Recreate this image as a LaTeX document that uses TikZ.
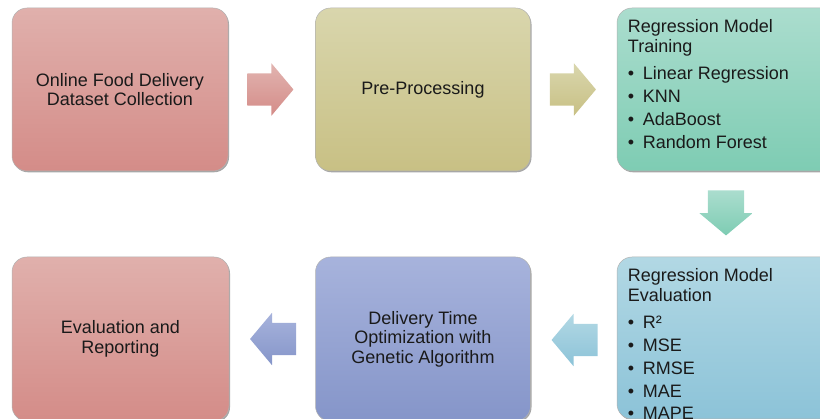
\documentclass[tikz,border=0pt]{standalone}
\usepackage{fontspec}
\setmainfont{Liberation Sans}
\usetikzlibrary{shapes.arrows,shadows,calc}

% stage colours: top and bottom of each gradient
\definecolor{roseT}{HTML}{E0B0AC}
\definecolor{roseB}{HTML}{D48C88}
\definecolor{oliveT}{HTML}{D9D6AD}
\definecolor{oliveB}{HTML}{C8C084}
\definecolor{tealT}{HTML}{ABDDCE}
\definecolor{tealB}{HTML}{7ECCB3}
\definecolor{periT}{HTML}{A7B3DC}
\definecolor{periB}{HTML}{8595C9}
\definecolor{skyT}{HTML}{B2D8E4}
\definecolor{skyB}{HTML}{8CC3D8}
\definecolor{ink}{HTML}{1A1A1A}

\newcommand{\itm}[1]{\makebox[15pt][l]{\textbullet}#1}

\begin{document}
\begin{tikzpicture}[x=1pt,y=-1pt,
  stage/.style={rectangle, rounded corners=15pt, draw=black!30, line width=0.5pt,
    inner sep=0pt, text=ink, align=center, font=\fontsize{18}{19.5}\selectfont,
    drop shadow={shadow xshift=1pt, shadow yshift=-1.3pt, opacity=0.35, fill=black}},
  listtext/.style={inner sep=0pt, anchor=north west, align=left, text=ink,
    font=\fontsize{18}{20}\selectfont},
  flow/.style={single arrow, draw=none, inner sep=0pt, minimum height=46pt,
    single arrow head extend=10pt, single arrow tip angle=100, anchor=tail},
]
\path[use as bounding box] (0,0) rectangle (820,419);
\clip (0,0) rectangle (820,419);

% top row
\node[stage, top color=roseT, bottom color=roseB, minimum width=216pt, minimum height=163pt]
  (collect) at (120,89.5) {Online Food Delivery\\Dataset Collection};
\node[stage, top color=oliveT, bottom color=oliveB, minimum width=215pt, minimum height=163pt]
  (prep) at (423,89.5) {Pre-Processing};
\node[stage, top color=tealT, bottom color=tealB, minimum width=218pt, minimum height=163pt]
  (train) at (726,89.5) {};

% bottom row (runs slightly past the lower edge)
\node[stage, top color=roseT, bottom color=roseB, minimum width=217pt, minimum height=164pt]
  (report) at (120.5,339) {Evaluation and\\[0.5pt]Reporting};
\node[stage, top color=periT, bottom color=periB, minimum width=215pt, minimum height=164pt]
  (optim) at (423,339) {Delivery Time\\Optimization with\\Genetic Algorithm};
\node[stage, top color=skyT, bottom color=skyB, minimum width=218pt, minimum height=162pt]
  (evalm) at (726,338) {};

% bulleted contents of the two model boxes
\node[listtext] (traintxt) at ($(train.north west)+(11,12)$)
  {Regression Model\\Training\\[7pt]
   \itm{Linear Regression}\\[2.7pt]
   \itm{KNN}\\[2.7pt]
   \itm{AdaBoost}\\[2.7pt]
   \itm{Random Forest}};
\node[listtext] (evaltxt) at ($(evalm.north west)+(11,12)$)
  {Regression Model\\Evaluation\\[7pt]
   \itm{R²}\\[2.7pt]
   \itm{MSE}\\[2.7pt]
   \itm{RMSE}\\[2.7pt]
   \itm{MAE}\\[2.7pt]
   \itm{MAPE}};

% block arrows between stages (the rule sets the shaft thickness)
\node[flow, top color=roseT!95!white, bottom color=roseB] (a1)
  at ($(collect.east)+(19,0)$) {\rule{0pt}{32pt}};
\node[flow, top color=oliveT, bottom color=oliveB] (a2)
  at ($(prep.east)+(19,0)$) {\rule{0pt}{32pt}};
\node[flow, shape border rotate=270, minimum height=45pt, single arrow head extend=8.5pt,
  top color=tealT, bottom color=tealB] (a3)
  at ($(train.south)+(0,19)$) {\rule{36pt}{0pt}};
\node[flow, shape border rotate=180, top color=skyT, bottom color=skyB] (a4)
  at ($(evalm.west)+(-19,2)$) {\rule{0pt}{32pt}};
\node[flow, shape border rotate=180, top color=periT, bottom color=periB] (a5)
  at ($(optim.west)+(-19,0)$) {\rule{0pt}{32pt}};
\end{tikzpicture}
\end{document}
